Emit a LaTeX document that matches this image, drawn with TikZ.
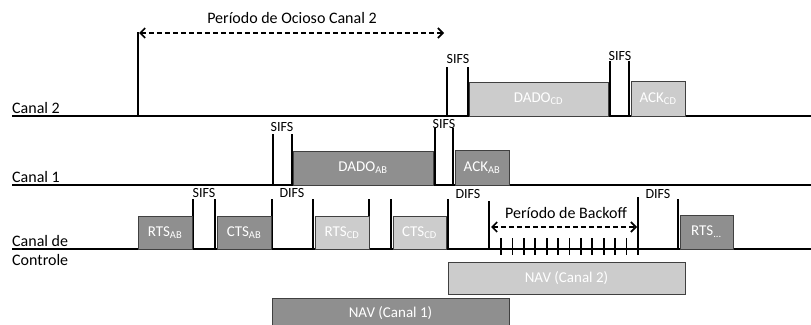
\documentclass[tikz,border=0pt]{standalone}
\usepackage{fontspec}
\setmainfont{Carlito}
\usetikzlibrary{arrows.meta}
\definecolor{boxdark}{RGB}{143,143,143}
\definecolor{boxlight}{RGB}{204,204,204}
\begin{document}
\begin{tikzpicture}[>={Straight Barb[length=5pt,width=10pt]}, x=1pt, y=-1pt]
	\tikzset{
		chanline/.style={line width=1.8pt},
		marker/.style={line width=1.8pt},
		bomark/.style={line width=1.8pt},
		periodarrow/.style={<->, dash pattern=on 5pt off 3pt, line width=1.6pt},
		slot/.style={draw=black!75, line width=0.8pt, inner sep=0pt, outer sep=0pt,
				anchor=south west, text=white, font=\fontsize{15}{15}\selectfont},
		darkbox/.style={slot, fill=boxdark},
		lightbox/.style={slot, fill=boxlight},
		gaplabel/.style={anchor=south, inner sep=1pt, font=\fontsize{14}{14}\selectfont},
		chanlabel/.style={anchor=south west, inner sep=1pt, font=\fontsize{16}{16}\selectfont},
	}
	\useasboundingbox (0,0) rectangle (811,324);
	% canais
	\draw[chanline] (12,116) -- (811,116);
	\draw[chanline] (12,185) -- (811,185);
	\draw[chanline] (12,249) -- (811,249);
	\node[chanlabel] (lc2) at (11,115) {Canal 2};
	\node[chanlabel] (lc1) at (11,184) {Canal 1};
	\node[chanlabel] (lcc) at (11,248) {Canal de};
	\node[chanlabel, anchor=north west] (lcc2) at (11,253) {Controle};
	% canal 2
	\coordinate (idleL) at (139,33);
	\coordinate (idleR) at (444,33);
	\draw[marker] (138,32) -- (138,116);
	\draw[periodarrow] (idleL) -- (idleR);
	\node[font=\fontsize{16}{16}\selectfont] (idle) at (292,18) {Período de Ocioso Canal 2};
	\foreach \x/\t in {447/67, 468/67, 610/61, 629/61}
		\draw[marker] (\x,\t) -- (\x,116);
	\node[gaplabel] (s21) at (458,65) {SIFS};
	\node[gaplabel] (s22) at (620,62) {SIFS};
	\node[lightbox, minimum width=139pt, minimum height=34pt] (dadocd) at (469,116) {DADO\textsubscript{CD}};
	\node[lightbox, minimum width=54pt, minimum height=35pt] (ackcd) at (631,116) {ACK\textsubscript{CD}};
	% canal 1
	\foreach \x/\t in {273/134, 292/134, 435/128, 453/128}
		\draw[marker] (\x,\t) -- (\x,185);
	\node[gaplabel] (s11) at (282,133) {SIFS};
	\node[gaplabel] (s12) at (444,130) {SIFS};
	\node[darkbox, minimum width=140pt, minimum height=34pt] (dadoab) at (293,185) {DADO\textsubscript{AB}};
	\node[darkbox, minimum width=54pt, minimum height=35pt] (ackab) at (455,185) {ACK\textsubscript{AB}};
	% canal de controle
	\foreach \x/\t in {193/199, 215/199, 272/199, 313/199, 369/199, 391/199, 448/199, 489/201, 678/199}
		\draw[marker] (\x,\t) -- (\x,249);
	\draw[marker] (638,197) -- (638,255);
	\node[gaplabel] (sc1) at (204,199) {SIFS};
	\node[gaplabel] (dc1) at (292,199) {DIFS};
	\node[gaplabel] (dc2) at (468,200) {DIFS};
	\node[gaplabel] (dc3) at (658,200) {DIFS};
	\node[darkbox, minimum width=54pt, minimum height=33pt] (rtsab) at (138,249) {RTS\textsubscript{AB}};
	\node[darkbox, minimum width=54pt, minimum height=33pt] (ctsab) at (217,249) {CTS\textsubscript{AB}};
	\node[lightbox, minimum width=54pt, minimum height=33pt] (rtscd) at (315,249) {RTS\textsubscript{CD}};
	\node[lightbox, minimum width=53pt, minimum height=33pt] (ctscd) at (393,249) {CTS\textsubscript{CD}};
	\node[darkbox, minimum width=53pt, minimum height=34pt] (rtsnext) at (680,249) {RTS\textsubscript{...}};
	% backoff
	\foreach \k in {0,...,11}
		\draw[bomark] ({501+11.4*\k},238) -- ++(0,17);
	\coordinate (boL) at (491,227);
	\coordinate (boR) at (637,227);
	\draw[periodarrow] (boL) -- (boR);
	\node[font=\fontsize{16}{16}\selectfont] (backoff) at (566,213) {Período de Backoff};
	% NAV
	\node[lightbox, anchor=north west, minimum width=237pt, minimum height=32pt] (nav2) at (448,262) {NAV (Canal 2)};
	\node[darkbox, anchor=north west, minimum width=237pt, minimum height=30pt] (nav1) at (272,298) {NAV (Canal 1)};
\end{tikzpicture}
\end{document}
